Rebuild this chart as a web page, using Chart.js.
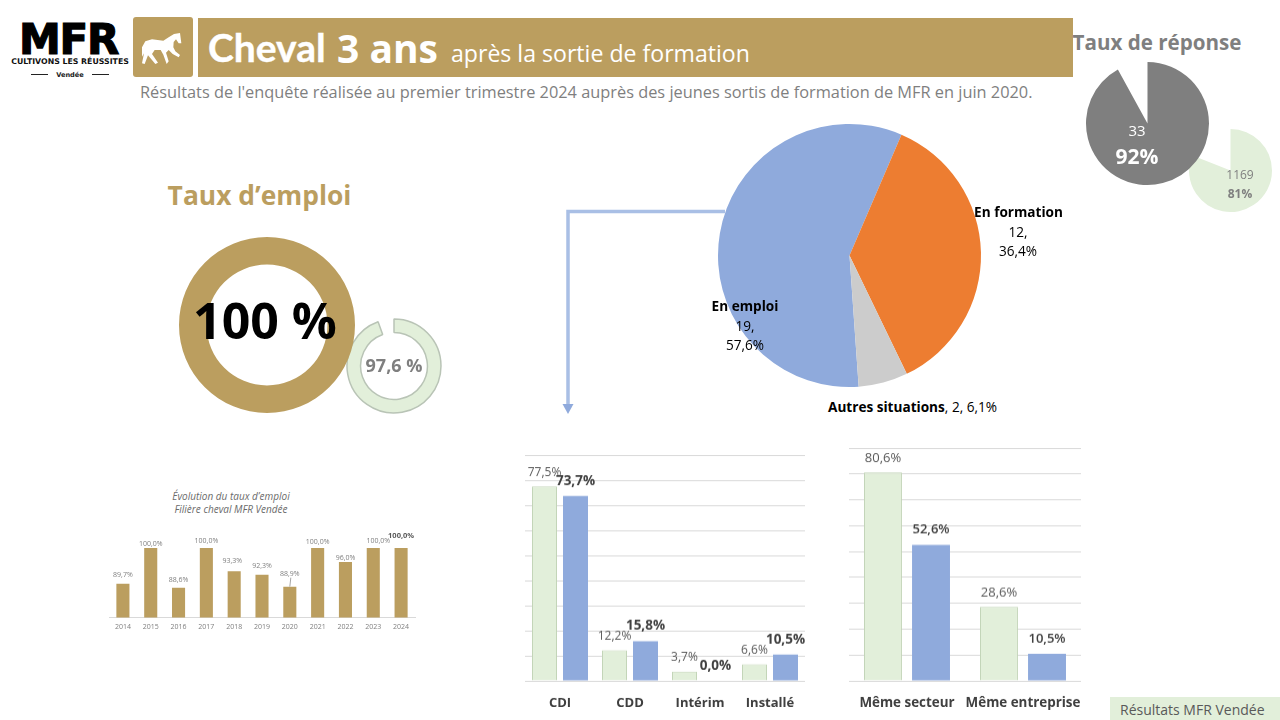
<!DOCTYPE html>
<html lang="fr">
<head>
<meta charset="utf-8">
<title>Cheval 3 ans</title>
<script src="https://cdn.jsdelivr.net/npm/chart.js@4"></script>
<style>
  html, body { margin: 0; padding: 0; background: #fff; }
  #page { position: relative; width: 1280px; height: 720px; overflow: hidden; font-family: "Open Sans", sans-serif; }
  #page canvas { position: absolute; }
  .txt { position: absolute; white-space: nowrap; line-height: 1; }
  .box { position: absolute; }
</style>
</head>
<body>
<div id="page">
  <div class="box" style="left:133px;top:17px;width:60px;height:60px;background:#bb9e5f;border-radius:3px"></div>
  <div class="box" style="left:198px;top:18px;width:875px;height:59px;background:#bb9e5f"></div>
  <svg class="box" style="left:130px;top:14px" width="70" height="66" viewBox="0 0 210 198">
    <path fill="#fff" d="M150 57 L154 88 L146 88 L138 76 L131 84 L130 100 L136 112 L150 123 L146 130 L128 120 L116 108 L108 116 L116 142 L110 150 L100 122 L92 108 L74 108 L66 120 L84 146 L76 150 L54 124 L44 150 L36 148 L42 118 L36 128 L36 100 L46 82 L66 76 L100 80 L116 70 L132 60 Z"/>
  </svg>
  <svg class="box" style="left:560px;top:205px" width="170" height="215" viewBox="0 0 170 215">
    <path d="M165 6.5 H8 V200" fill="none" stroke="#a9bfe5" stroke-width="3.5"/>
    <path d="M2.5 199 H13.5 L8 209 Z" fill="#8faadc"/>
  </svg>
</div>
<script>
// ---- data ----
const miniYears = ["2014", "2015", "2016", "2017", "2018", "2019", "2020", "2021", "2022", "2023", "2024"];
const miniRates = [89.7, 100, 88.6, 100, 93.3, 92.3, 88.9, 100, 96, 100, 100];

const statusLabels = ["En emploi", "En formation", "Autres situations"];
const statusCounts = [19, 12, 2];
const statusShares = ["57,6%", "36,4%", "6,1%"];

const contractLabels = ["CDI", "CDD", "Intérim", "Installé"];
const contractMfr = [77.5, 12.2, 3.7, 6.6];
const contractCheval = [73.7, 15.8, 0, 10.5];

const sectorLabels = ["Même secteur", "Même entreprise"];
const sectorMfr = [80.6, 28.6];
const sectorCheval = [52.6, 10.5];

const employRate = [100];
// l'anneau d'origine n'est pas à l'échelle du 97,6 % affiché
const employRingMfr = [94.5, 5.5];
const responseShare = [92, 8];
const responseShareMfr = [81, 19];

// ---- couleurs ----
const GOLD = "#bb9e5f";
const GREEN = "#e2efda";
const GREEN_EDGE = "#c3d5b8";
const BLUE = "#8faadc";
const GRID = "#d9d9d9";
const GRAY = "#7f7f7f";

Chart.defaults.font.family = '"Open Sans", sans-serif';
Chart.defaults.animation = false;
Chart.defaults.responsive = false;
Chart.defaults.plugins.legend.display = false;
Chart.defaults.plugins.tooltip.enabled = false;

const page = document.getElementById("page");

function addText(text, x, y, css, anchor) {
  const el = document.createElement("div");
  el.className = "txt";
  el.textContent = text;
  el.style.cssText = `left:${x}px;top:${y}px;${css}`;
  el.style.transform = `translate(${anchor === "left" ? "0" : "-50%"},-50%)`;
  page.appendChild(el);
  return el;
}

function addCanvas(left, top, width, height) {
  const c = document.createElement("canvas");
  c.width = width;
  c.height = height;
  c.style.left = left + "px";
  c.style.top = top + "px";
  c.style.width = width + "px";
  c.style.height = height + "px";
  page.appendChild(c);
  return c;
}

const pct = (v) => v.toFixed(1).replace(".", ",") + "%";

// étiquettes au-dessus des barres
const barLabels = {
  id: "barLabels",
  afterDatasetsDraw(chart) {
    const ctx = chart.ctx;
    chart.data.datasets.forEach((ds, i) => {
      chart.getDatasetMeta(i).data.forEach((bar, j) => {
        const gap = Array.isArray(ds.labelGap) ? ds.labelGap[j] : ds.labelGap;
        const shift = ds.labelShift ? ds.labelShift[j] : 0;
        const bold = ds.boldFrom !== undefined && j >= ds.boldFrom;
        ctx.save();
        ctx.font = bold ? ds.boldFont : ds.labelFont;
        ctx.fillStyle = bold ? "#595959" : ds.labelColor;
        ctx.textAlign = "center";
        ctx.textBaseline = "middle";
        ctx.fillText(pct(ds.data[j]), bar.x + shift, bar.y - gap);
        ctx.restore();
      });
    });
  }
};

function groupedChart(plot, labels, mfr, cheval, catPct, barPct, fonts) {
  const padX = 8, padTop = 10, padBottom = 36;
  const canvas = addCanvas(plot.l - padX, plot.t - padTop, plot.r - plot.l + padX * 2, plot.b - plot.t + padTop + padBottom);
  return new Chart(canvas, {
    type: "bar",
    data: {
      labels: labels,
      datasets: [
        {
          data: mfr, backgroundColor: GREEN, borderColor: GREEN_EDGE, borderWidth: 1,
          categoryPercentage: catPct, barPercentage: barPct,
          labelGap: 14, labelFont: fonts.mfr, labelColor: "#595959"
        },
        {
          data: cheval, backgroundColor: BLUE, borderWidth: 0,
          categoryPercentage: catPct, barPercentage: barPct,
          labelGap: 15, labelFont: fonts.cheval, labelColor: "#404040"
        }
      ]
    },
    options: {
      layout: { padding: { left: padX, right: padX, top: padTop, bottom: 0 } },
      scales: {
        x: {
          grid: { display: false, drawTicks: false },
          border: { display: false },
          ticks: { color: "#404040", font: { size: fonts.cat, weight: "bold" }, padding: 14, maxRotation: 0, autoSkip: false },
          afterFit: (s) => { s.height = padBottom; s.paddingLeft = 0; s.paddingRight = 0; }
        },
        y: {
          min: 0, max: 90,
          grid: { color: GRID, drawTicks: false },
          border: { display: false },
          ticks: { display: false, stepSize: 10 },
          afterFit: (s) => { s.width = 0; }
        }
      }
    },
    plugins: [barLabels]
  });
}

function ringChart(cx, cy, radius, cutout, data, colors, borders, rotation) {
  const size = radius * 2 + 6;
  const canvas = addCanvas(cx - size / 2, cy - size / 2, size, size);
  return new Chart(canvas, {
    type: "doughnut",
    data: { datasets: [{ data: data, backgroundColor: colors, borderColor: borders || "transparent", borderWidth: borders ? 1.5 : 0 }] },
    options: { radius: radius, cutout: cutout, rotation: rotation || 0 }
  });
}

// ---- en-tête ----
addText("MFR", 68.5, 40, 'font-family:"DejaVu Sans";font-weight:bold;font-size:42px;color:#000;-webkit-text-stroke:1.2px #000;letter-spacing:-1.2px');
addText("CULTIVONS LES RÉUSSITES", 70, 62, 'font-family:"DejaVu Sans";font-weight:bold;font-size:7.8px;color:#111');
addText("Vendée", 70, 74.5, 'font-family:"DejaVu Sans";font-weight:bold;font-size:6.6px;color:#222');
page.insertAdjacentHTML("beforeend", '<div class="box" style="left:31px;top:74px;width:17px;height:1px;background:#222"></div><div class="box" style="left:92px;top:74px;width:17px;height:1px;background:#222"></div>');

addText("Cheval", 208, 47, 'font-family:Lato;font-weight:bold;font-size:39px;color:#fff;-webkit-text-stroke:0.4px #fff', "left");
addText("3 ans", 337, 47, 'font-family:"Open Sans";font-weight:bold;font-size:39px;color:#fff', "left");
addText("après la sortie de formation", 451, 54, 'font-family:"Open Sans";font-size:23.1px;color:#fff', "left");
addText("Résultats de l'enquête réalisée au premier trimestre 2024 auprès des jeunes sortis de formation de MFR en juin 2020.", 140, 92, "font-size:16.35px;color:#7f7f7f", "left");

// ---- taux d'emploi ----
addText("Taux d’emploi", 259.5, 195, 'font-family:"Open Sans";font-weight:bold;font-size:26.4px;color:' + GOLD);
ringChart(394, 366, 47, 35, employRingMfr, [GREEN, "transparent"], ["#b9c4b6", "transparent"]);
ringChart(267, 325, 88, 62.5, employRate, [GOLD]);
addText("100 %", 265, 320, 'font-family:"Open Sans";font-weight:bold;font-size:50px;color:#000');
addText("97,6 %", 394, 365, 'font-weight:bold;font-size:18px;color:#7f7f7f');

// ---- évolution du taux d'emploi ----
addText("Évolution du taux d’emploi", 231, 496, "font-style:italic;font-size:10px;color:#6b6b6b");
addText("Filière cheval MFR Vendée", 231, 509, "font-style:italic;font-size:10px;color:#6b6b6b");
const miniGaps = [9, 4, 7.5, 7.5, 10.5, 9, 12.5, 6, 3.5, 7.5, 12];
const miniShifts = [0, 0, 0, 0, -2, 0, 0, 0, 0, 5, 0];
new Chart(addCanvas(99, 528, 326, 112), {
  type: "bar",
  data: {
    labels: miniYears,
    datasets: [{
      data: miniRates, backgroundColor: GOLD, barPercentage: 0.47, categoryPercentage: 1,
      labelGap: miniGaps, labelShift: miniShifts, labelFont: '7px "Open Sans"', labelColor: "#7f7f7f",
      boldFrom: 10, boldFont: 'bold 7.5px "Open Sans"'
    }]
  },
  options: {
    layout: { padding: { left: 10, right: 10, top: 20, bottom: 0 } },
    scales: {
      x: {
        grid: { display: false, drawTicks: false },
        border: { color: GRID },
        ticks: { color: "#7f7f7f", font: { size: 7 }, padding: 5, maxRotation: 0, autoSkip: false },
        afterFit: (s) => { s.height = 22.4; }
      },
      y: { display: false, min: 80, max: 100 }
    }
  },
  plugins: [barLabels, {
    id: "leader",
    afterDatasetsDraw(chart) {
      // petit trait de rappel pour 2020
      const bar = chart.getDatasetMeta(0).data[6];
      const ctx = chart.ctx;
      ctx.save();
      ctx.strokeStyle = "#a6a6a6";
      ctx.beginPath();
      ctx.moveTo(bar.x + 1, bar.y - 9);
      ctx.lineTo(bar.x, bar.y);
      ctx.stroke();
      ctx.restore();
    }
  }]
});

// ---- situation ----
ringChart(849, 255, 131.5, 0, statusCounts, [BLUE, "#ed7d31", "#cccccc"], null, 176);
const statusText = "color:#000;font-size:13.6px";
addText(statusLabels[1], 1018.5, 212, statusText + ";font-weight:bold");
addText(statusCounts[1] + ",", 1018, 232, statusText);
addText(statusShares[1], 1018, 251, statusText);
addText(statusLabels[0], 745, 306, statusText + ";font-weight:bold");
addText(statusCounts[0] + ",", 745, 326, statusText);
addText(statusShares[0], 745, 345, statusText);
const otherLabel = addText("", 828, 407, statusText, "left");
otherLabel.innerHTML = "<b>" + statusLabels[2] + "</b>, " + statusCounts[2] + ", " + statusShares[2];

// ---- contrats et secteur ----
groupedChart({ l: 525, t: 455.4, r: 805, b: 681 }, contractLabels, contractMfr, contractCheval, 0.886, 0.806,
  { mfr: '12px "Open Sans"', cheval: 'bold 13.5px "Open Sans"', cat: 13 });
groupedChart({ l: 849, t: 448.3, r: 1081, b: 681 }, sectorLabels, sectorMfr, sectorCheval, 0.828, 0.79,
  { mfr: '13px "Open Sans"', cheval: '600 13px "Open Sans"', cat: 13.4 });

// ---- taux de réponse ----
addText("Taux de réponse", 1157, 42, 'font-weight:bold;font-size:20.6px;color:#7f7f7f');
ringChart(1230, 170, 41.5, 0, responseShareMfr, [GREEN, "transparent"]);
ringChart(1147.5, 123, 61.5, 0, responseShare, [GRAY, "transparent"]);
addText("33", 1137, 130, "font-size:15px;color:#fff");
addText("92%", 1137, 156, "font-weight:bold;font-size:21px;color:#fff");
addText("1169", 1240, 175, "font-size:12px;color:#7f7f7f");
addText("81%", 1240, 194, "font-weight:bold;font-size:12px;color:#7f7f7f");

// ---- pied de page ----
page.insertAdjacentHTML("beforeend", '<div class="box" style="left:1110px;top:697px;width:170px;height:23px;background:#e2efda"></div>');
addText("Résultats MFR Vendée", 1120, 710, "font-size:14px;color:#595959", "left");
</script>
</body>
</html>
